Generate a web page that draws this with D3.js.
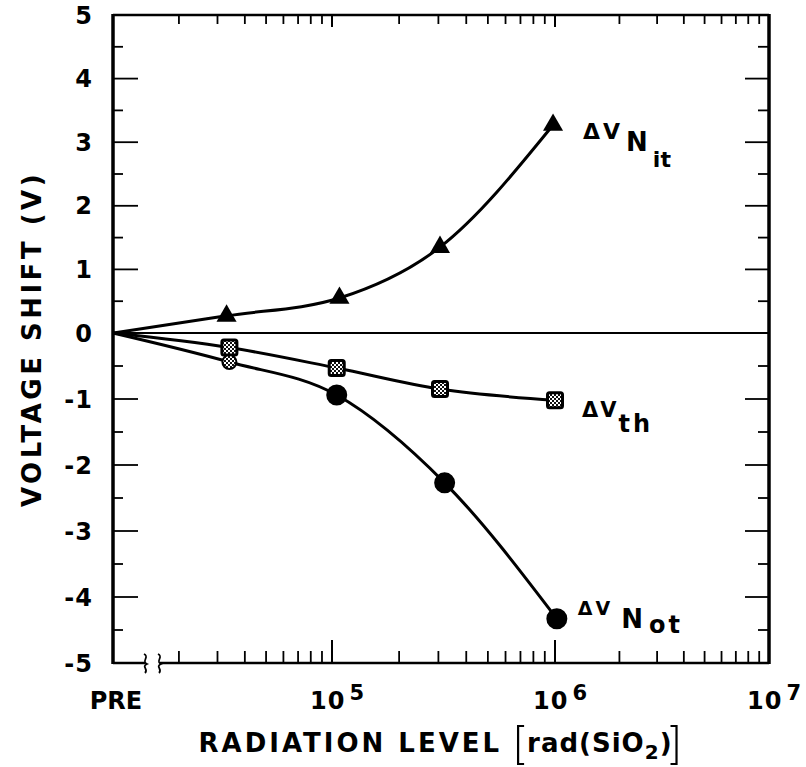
<!DOCTYPE html>
<html>
<head>
<meta charset="utf-8">
<script src="https://cdn.jsdelivr.net/npm/d3@7"></script>
<style>
  html, body { margin: 0; padding: 0; background: #fff; }
  svg { display: block; font-family: "DejaVu Sans", "Liberation Sans", Arial, sans-serif; }
</style>
</head>
<body>
<svg id="chart" width="806" height="767"></svg>
<script>
// ---- data ----
const preDose = 1e4;                 // "PRE" is drawn at the left edge
const nitDose  = [3.3e4, 1.08e5, 3.05e5, 9.8e5];
const nitShift = [0.27, 0.55, 1.35, 3.27];
const thDose   = [3.4e4, 1.05e5, 3.05e5, 1.0e6];
const thShift  = [-0.22, -0.53, -0.85, -1.02];
const notDose  = [3.4e4, 1.05e5, 3.2e5, 1.02e6];
const notShift = [-0.44, -0.94, -2.27, -4.33];
const yTickValues = [5, 4, 3, 2, 1, 0, -1, -2, -3, -4, -5];
const xMajorDecades = [5, 6, 7];
const xTitle = "RADIATION LEVEL";
const yTitle = "VOLTAGE SHIFT (V)";

// ---- layout ----
const svg = d3.select("#chart");
const L = 113, R = 769, T = 15, B = 663;

const x = d3.scaleLog().domain([1e4, 1e5, 1e6, 1e7]).range([L, 332, 555, R]);
const y = d3.scaleLinear().domain([5, 0, -5]).range([T, 333, B]);

// checker pattern for the square markers
const defs = svg.append("defs");
const pat = defs.append("pattern").attr("id", "chk").attr("patternUnits", "userSpaceOnUse")
  .attr("width", 4).attr("height", 4);
pat.append("rect").attr("width", 4).attr("height", 4).attr("fill", "#fff");
pat.append("rect").attr("width", 2).attr("height", 2).attr("fill", "#111");
pat.append("rect").attr("x", 2).attr("y", 2).attr("width", 2).attr("height", 2).attr("fill", "#111");

const g = svg.append("g");

// ---- frame ----
g.append("line").attr("x1", L).attr("x2", L).attr("y1", T - 1).attr("y2", B + 1)
  .attr("stroke", "#000").attr("stroke-width", 3.5);
g.append("line").attr("x1", R).attr("x2", R).attr("y1", T - 1).attr("y2", B + 1)
  .attr("stroke", "#000").attr("stroke-width", 3.5);
g.append("line").attr("x1", L).attr("x2", R).attr("y1", T).attr("y2", T)
  .attr("stroke", "#000").attr("stroke-width", 2.5);
// bottom axis with break
g.append("line").attr("x1", L).attr("x2", 145).attr("y1", B).attr("y2", B)
  .attr("stroke", "#000").attr("stroke-width", 2.5);
g.append("line").attr("x1", 160).attr("x2", R).attr("y1", B).attr("y2", B)
  .attr("stroke", "#000").attr("stroke-width", 2.5);
[146, 160].forEach(bx => {
  g.append("path")
    .attr("d", `M${bx - 2},${B - 9} C${bx + 4},${B - 6} ${bx - 5},${B - 2} ${bx + 1},${B + 1} C${bx - 5},${B + 4} ${bx + 3},${B + 6} ${bx - 1},${B + 10}`)
    .attr("fill", "none").attr("stroke", "#000").attr("stroke-width", 1.8);
});

// ---- y ticks (left & right, inward) ----
const yMinor = d3.range(-4.5, 5, 1);
yTickValues.filter(v => v > -5 && v < 5).forEach(v => {
  g.append("line").attr("x1", L).attr("x2", L + 25).attr("y1", y(v)).attr("y2", y(v))
    .attr("stroke", "#000").attr("stroke-width", 1.8);
  g.append("line").attr("x1", R).attr("x2", R - 24).attr("y1", y(v)).attr("y2", y(v))
    .attr("stroke", "#000").attr("stroke-width", 1.8);
});
yMinor.forEach(v => {
  g.append("line").attr("x1", L).attr("x2", L + 10).attr("y1", y(v)).attr("y2", y(v))
    .attr("stroke", "#000").attr("stroke-width", 1.8);
  g.append("line").attr("x1", R).attr("x2", R - 11).attr("y1", y(v)).attr("y2", y(v))
    .attr("stroke", "#000").attr("stroke-width", 1.8);
});

// y tick labels
g.selectAll(".ylab").data(yTickValues).join("text")
  .attr("x", 93).attr("y", d => y(d)).attr("dy", "0.36em")
  .attr("text-anchor", "end").attr("font-size", 24).attr("font-weight", "bold")
  .attr("letter-spacing", 1)
  .text(d => d < 0 ? "-" + Math.abs(d) : d);

// ---- x ticks (bottom & top, inward) ----
const xMinor = [];
[4, 5, 6].forEach(e => { for (let m = 2; m <= 9; m++) xMinor.push(m * Math.pow(10, e)); });
xMinor.forEach(v => {
  g.append("line").attr("x1", x(v)).attr("x2", x(v)).attr("y1", B).attr("y2", B - 12)
    .attr("stroke", "#000").attr("stroke-width", 1.8);
  g.append("line").attr("x1", x(v)).attr("x2", x(v)).attr("y1", T).attr("y2", T + 9)
    .attr("stroke", "#000").attr("stroke-width", 1.8);
});
xMajorDecades.filter(e => e < 7).forEach(e => {
  const v = Math.pow(10, e);
  g.append("line").attr("x1", x(v)).attr("x2", x(v)).attr("y1", B).attr("y2", B - 23)
    .attr("stroke", "#000").attr("stroke-width", 2);
  g.append("line").attr("x1", x(v)).attr("x2", x(v)).attr("y1", T).attr("y2", T + 12)
    .attr("stroke", "#000").attr("stroke-width", 2);
});

// x tick labels
g.append("text").attr("x", x(preDose) + 3).attr("y", 709).attr("text-anchor", "middle")
  .attr("font-size", 24).attr("font-weight", "bold").text("PRE");
xMajorDecades.forEach(e => {
  const t = g.append("text").attr("x", x(Math.pow(10, e)) - 22).attr("y", 709)
    .attr("font-size", 24).attr("font-weight", "bold");
  t.append("tspan").attr("letter-spacing", 1).text("10");
  t.append("tspan").attr("dx", 4).attr("dy", -9).attr("font-size", 21).text(e);
});

// ---- axis titles ----
const xt = g.append("text").attr("y", 752)
  .attr("font-size", 26).attr("font-weight", "bold").attr("letter-spacing", 3)
  .text(xTitle);
const ut = g.append("text").attr("y", 752).attr("font-size", 26).attr("font-weight", "bold")
  .attr("letter-spacing", 1);
ut.append("tspan").text("rad(SiO");
ut.append("tspan").attr("font-size", 20).attr("dy", 7).text("2");
ut.append("tspan").attr("dy", -7).text(")");
const xtW = xt.node().getBBox().width;
const utW = ut.node().getBBox().width;
const gap = 16;
const totalW = xtW + gap + 10 + utW + 10;
const startX = (L + R) / 2 - totalW / 2;
xt.attr("x", startX);
const bx0 = startX + xtW + gap;
ut.attr("x", bx0 + 9);
const bx1 = bx0 + 9 + utW + 4;
g.append("path").attr("d", `M${bx0 + 6},${726} L${bx0},${726} L${bx0},${764} L${bx0 + 6},${764}`)
  .attr("fill", "none").attr("stroke", "#000").attr("stroke-width", 2.2);
g.append("path").attr("d", `M${bx1 - 6},${726} L${bx1},${726} L${bx1},${764} L${bx1 - 6},${764}`)
  .attr("fill", "none").attr("stroke", "#000").attr("stroke-width", 2.2);

g.append("text").attr("transform", `translate(41,${(T + B) / 2}) rotate(-90)`)
  .attr("text-anchor", "middle").attr("font-size", 26).attr("font-weight", "bold")
  .attr("letter-spacing", 3.5).text(yTitle);

// ---- zero line ----
g.append("line").attr("x1", L).attr("x2", R).attr("y1", y(0)).attr("y2", y(0))
  .attr("stroke", "#000").attr("stroke-width", 2.2);

// ---- curves ----
const line = d3.line().x(d => x(d[0])).y(d => y(d[1])).curve(d3.curveMonotoneX);
function series(dose, shift) {
  return [[preDose, 0]].concat(dose.map((d, i) => [d, shift[i]]));
}
const nit = series(nitDose, nitShift);
const th = series(thDose, thShift);
const not = series(notDose, notShift);
[nit, th, not].forEach(s => {
  g.append("path").attr("d", line(s)).attr("fill", "none")
    .attr("stroke", "#000").attr("stroke-width", 3);
});

// ---- markers ----
const tri = d3.symbol().type(d3.symbolTriangle).size(175);
g.selectAll(".tri").data(nit.slice(1)).join("path")
  .attr("transform", d => `translate(${x(d[0])},${y(d[1])})`)
  .attr("d", tri).attr("fill", "#000");

g.selectAll(".sq").data(th.slice(1)).join("rect")
  .attr("x", d => x(d[0]) - 7.5).attr("y", d => y(d[1]) - 7.5)
  .attr("width", 15).attr("height", 15).attr("rx", 2)
  .attr("fill", "url(#chk)").attr("stroke", "#000").attr("stroke-width", 3);

g.selectAll(".dot").data(not.slice(1)).join("circle")
  .attr("cx", d => x(d[0])).attr("cy", d => y(d[1]))
  .attr("r", (d, i) => i === 0 ? 7 : 9.5)
  .attr("fill", (d, i) => i === 0 ? "url(#chk)" : "#000")
  .attr("stroke", "#000").attr("stroke-width", 2);

// ---- series labels ----
function lab(px, py) {
  return g.append("text").attr("x", px).attr("y", py).attr("font-weight", "bold");
}
const lastNit = nit[nit.length - 1], lastTh = th[th.length - 1], lastNot = not[not.length - 1];

let t1 = lab(x(lastNit[0]) + 30, y(lastNit[1]) + 14);
t1.append("tspan").attr("font-size", 22).attr("letter-spacing", 3).text("ΔV");
t1.append("tspan").attr("font-size", 26).attr("dx", 3).attr("dy", 12).text("N");
t1.append("tspan").attr("font-size", 22).attr("dx", 5).attr("dy", 16).text("it");

let t2 = lab(x(lastTh[0]) + 27, y(lastTh[1]) + 17);
t2.append("tspan").attr("font-size", 21).attr("letter-spacing", 2).text("ΔV");
t2.append("tspan").attr("font-size", 24).attr("letter-spacing", 3).attr("dx", 0).attr("dy", 15).text("th");

let t3 = lab(x(lastNot[0]) + 21, y(lastNot[1]) - 4);
t3.append("tspan").attr("font-size", 19).attr("letter-spacing", 3).text("ΔV");
t3.append("tspan").attr("font-size", 26).attr("dx", 8).attr("dy", 13).text("N");
t3.append("tspan").attr("font-size", 24).attr("letter-spacing", 3).attr("dx", 6).attr("dy", 5).text("ot");
</script>
</body>
</html>
